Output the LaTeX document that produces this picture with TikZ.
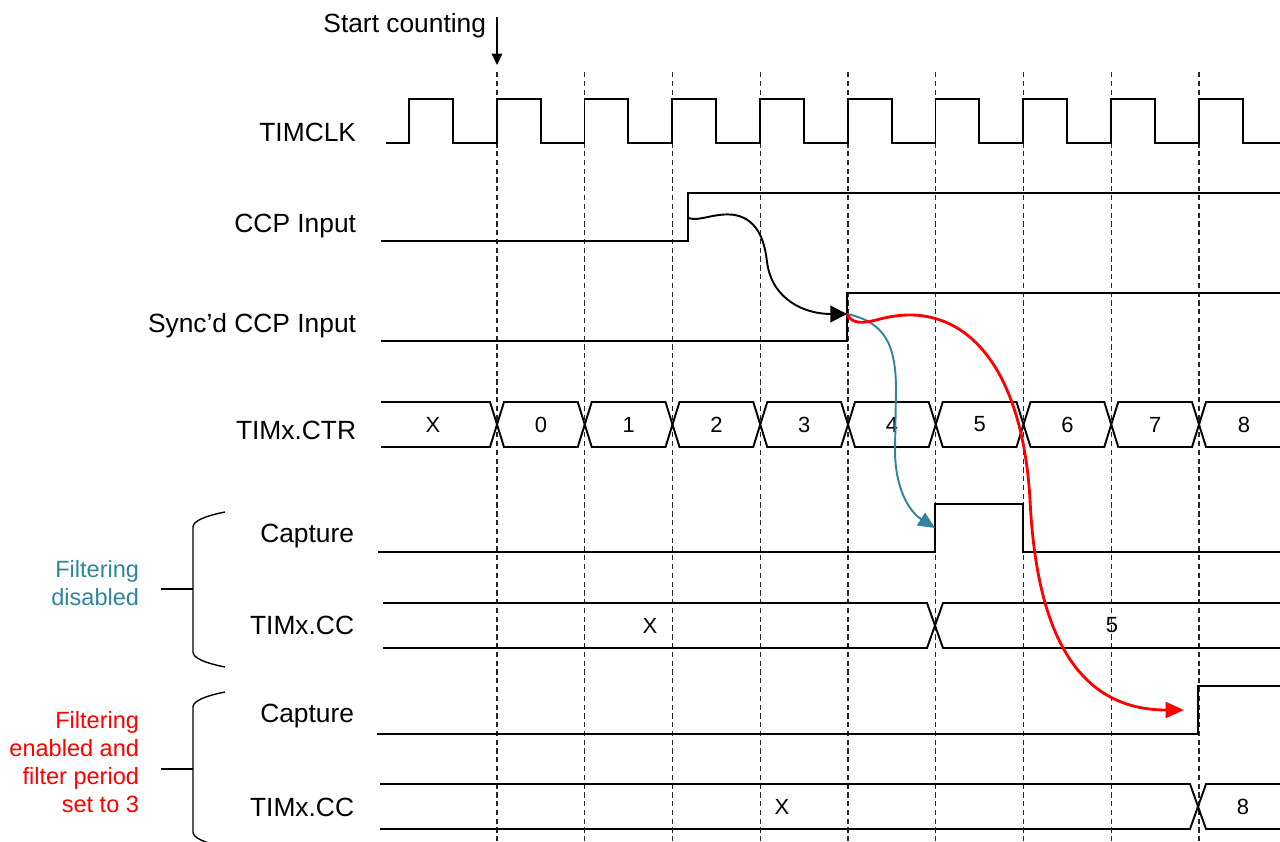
\documentclass[tikz,border=0pt]{standalone}
\usepackage{fontspec}
\setmainfont{Liberation Sans}
\usepackage{xcolor}
\colorlet{myred}{red}
\definecolor{myteal}{RGB}{49,133,155}
\usetikzlibrary{arrows.meta}

\begin{document}
\begin{tikzpicture}[x=0.02cm, y=-0.02cm, >=Latex, line width=1.1pt,
    siglabel/.style={anchor=base east, inner sep=0pt, font=\fontsize{15}{18}\selectfont},
    busval/.style={inner sep=0pt, font=\fontsize{12.5}{15}\selectfont},
    gridline/.style={line width=0.6pt, black!85, dash pattern=on 3pt off 2pt},
    bracket/.style={line width=0.8pt}]

                \useasboundingbox (0,0) rectangle (1280,841);
                \clip (0,0) rectangle (1280,841);

                % ===== CLOCK GRID =====
                \foreach \k in {0,...,8} {
                    \draw[gridline] ({497+87.75*\k},72) -- ({497+87.75*\k},841);
                }
                \node[siglabel] (startLbl) at (487,33) {Start counting};
                \coordinate (startTop) at (497,17);
                \coordinate (startTip) at (497,65);
                \draw[line width=0.8pt, -{Triangle[length=6.5pt,width=6pt]}] (startTop) -- (startTip);

                % ===== SIGNAL LABELS =====
                \node[siglabel] (clkLbl)    at (357,142) {TIMCLK};
                \node[siglabel] (ccpLbl)    at (357,233) {CCP Input};
                \node[siglabel] (syncLbl)   at (357,332) {Sync’d CCP Input};
                \node[siglabel] (ctrLbl)    at (357,439) {TIMx.CTR};
                \node[siglabel] (capOffLbl) at (355,542) {Capture};
                \node[siglabel] (ccOffLbl)  at (355,634) {TIMx.CC};
                \node[siglabel] (capOnLbl)  at (355,722) {Capture};
                \node[siglabel] (ccOnLbl)   at (355,816) {TIMx.CC};

                % ===== TIMCLK =====
                \draw (386,143) \foreach \k in {0,...,9} {
                    -- ({409+87.75*\k},143) -- ++(0,-44) -- ++(43.9,0) -- ++(0,44)
                } -- (1280,143);

                % ===== CCP INPUT AND SYNC'D INPUT =====
                \draw (381,241) -- (688,241) -- (688,193) -- (1280,193);
                \draw (381,341) -- (847,341) -- (847,293) -- (1280,293);
                \coordinate (ccpEdge)  at (688,218);
                \coordinate (syncEdge) at (847,314);

                % ===== TIMx.CTR BUS =====
                \draw (381,402) -- (490,402) -- (497,424.5) -- (490,447) -- (381,447);
                \node[busval] (ctrX) at (433,424.5) {X};
                \foreach \k in {0,...,7} {
                    \draw ({497+87.75*\k},424.5) -- ({504+87.75*\k},402) -- ({490+87.75*(\k+1)},402)
                        -- ({497+87.75*(\k+1)},424.5) -- ({490+87.75*(\k+1)},447) -- ({504+87.75*\k},447) -- cycle;
                    \node[busval] (ctr\k) at ({497+87.75*(\k+0.5)},424.5) {\k};
                }
                \draw (1280,402) -- (1206,402) -- (1199,424.5) -- (1206,447) -- (1280,447);
                \node[busval] (ctr8) at (1244,424.5) {8};

                % ===== FILTERING DISABLED =====
                \draw (378,552) -- (935,552) -- (935,504) -- (1023,504) -- (1023,552) -- (1280,552);
                \coordinate (capOffEdge) at (935,528);
                \draw (383,603) -- (927,603) -- (943,648) -- (1280,648);
                \draw (383,648) -- (927,648) -- (943,603) -- (1280,603);
                \node[busval] (ccOffX) at (650,625.5) {X};
                \node[busval] (ccOff5) at (1112,625.5) {5};

                % ===== FILTERING ENABLED =====
                \draw (377,734) -- (1198,734) -- (1198,686) -- (1280,686);
                \coordinate (capOnEdge) at (1184,710);
                \draw (380,784) -- (1190,784) -- (1206,829) -- (1280,829);
                \draw (380,829) -- (1190,829) -- (1206,784) -- (1280,784);
                \node[busval] (ccOnX) at (782,806.5) {X};
                \node[busval] (ccOn8) at (1243,806.5) {8};

                % ===== CAUSE ARROWS =====
                \draw[-{Triangle[length=9.5pt,width=9.5pt]}] (ccpEdge)
                    .. controls (700,222) and (715,212) .. (735,215)
                    .. controls (760,220) and (765,245) .. (767,262)
                    .. controls (772,300) and (805,314) .. (syncEdge);
                \draw[myteal, -{Triangle[length=9.5pt,width=8.5pt]}] (syncEdge)
                    .. controls (885,322) and (896,345) .. (896,390) -- (895,450)
                    .. controls (895,490) and (910,512) .. (capOffEdge);
                \draw[myred, line width=1.6pt, -{Triangle[length=10.5pt,width=9pt]}] (syncEdge)
                    .. controls (852,324) and (862,324) .. (880,319)
                    .. controls (960,298) and (1022,360) .. (1030,500)
                    .. controls (1035,600) and (1060,710) .. (capOnEdge);

                % ===== GROUP BRACKETS =====
                \draw[bracket] (225,512) .. controls (205,516) and (193,521) .. (193,527) -- (193,652)
                    .. controls (193,658) and (205,663) .. (225,667);
                \draw[bracket] (161,589) -- (193,589);
                \node[anchor=north east, align=right, inner sep=0pt, text=myteal,
                    font=\fontsize{13.4}{16}\selectfont] (filtOff) at (140,559) {Filtering\\disabled};
                \draw[bracket] (225,692) .. controls (205,696) and (193,701) .. (193,707) -- (193,832)
                    .. controls (193,838) and (205,843) .. (225,847);
                \draw[bracket] (161,769) -- (193,769);
                \node[anchor=north east, align=right, inner sep=0pt, text=myred,
                    font=\fontsize{13.4}{16}\selectfont] (filtOn) at (140,710) {Filtering\\enabled and\\filter period\\set to 3};

            \end{tikzpicture}
\end{document}
